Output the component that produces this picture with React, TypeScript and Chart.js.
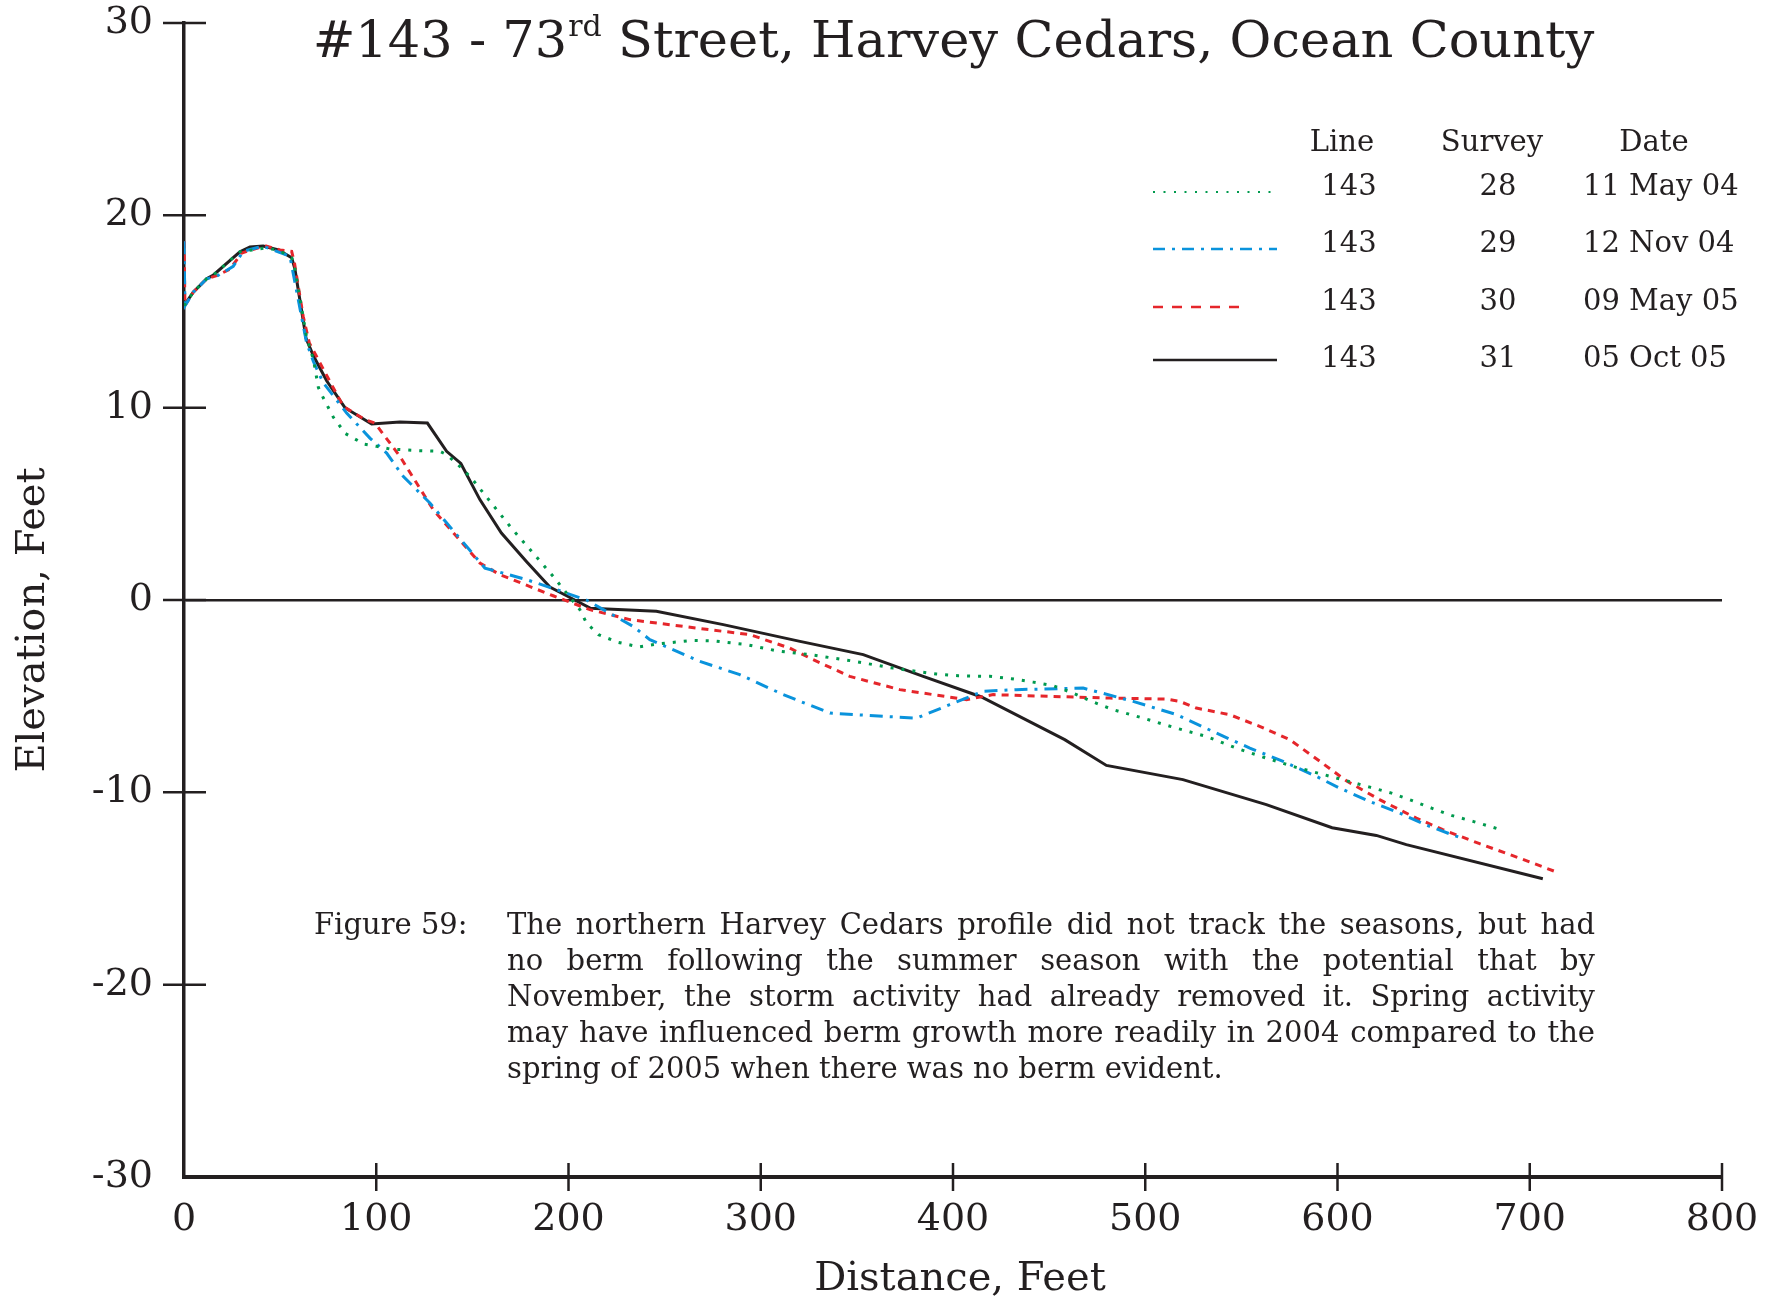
import React, { useEffect, useRef } from "react";
import { Chart, registerables } from "chart.js";

Chart.register(...registerables);

const INK = "#231f20";
const FONT = "'DejaVu Serif', serif";

// ---- data (distance in feet, elevation in feet) ----
const survey28Distance = [0, 4.8, 11.8, 15.3, 29, 42.1, 49, 56, 57.7, 63.7, 67.3, 69.9, 72.5, 77.7, 84, 93.7, 100.2, 107.1, 121, 133.1, 136.5, 141.7, 149.5, 159.9, 170.3, 181.6, 192, 199, 205.9, 209.4, 215.6, 225.8, 236.5, 247.5, 264.8, 275.2, 292.6, 308.2, 325.5, 347.1, 368.8, 391.3, 402.7, 419.1, 430.3, 441.6, 452, 462.4, 472.8, 483.2, 498.8, 516.1, 531.7, 547.3, 562.9, 578.5, 589.8, 601.1, 616.8, 628.1, 638.5, 648.9, 659.3, 670.5, 686.1];
const survey28Elevation = [15.3, 16.0, 16.7, 16.9, 18.1, 18.3, 18.2, 17.8, 17.2, 13.7, 12.5, 11.05, 10.5, 9.5, 8.65, 8.1, 7.99, 7.85, 7.77, 7.73, 7.56, 7.12, 6.34, 5.04, 3.74, 2.44, 1.23, 0.36, -0.5, -1.2, -1.8, -2.2, -2.44, -2.27, -2.1, -2.12, -2.32, -2.64, -2.84, -3.16, -3.54, -3.85, -3.94, -3.97, -4.09, -4.27, -4.45, -4.84, -5.3, -5.7, -6.14, -6.66, -7.09, -7.7, -8.22, -8.7, -9.0, -9.3, -9.73, -10.04, -10.42, -10.82, -11.2, -11.51, -11.98];

const survey29Distance = [0, 0.5, 4.8, 11.8, 17, 25.6, 30.8, 41, 55.1, 63.7, 67.3, 72.4, 84.6, 96.7, 105.4, 114, 127.9, 141.8, 156.5, 178.1, 193.7, 209.3, 233.6, 242.3, 268.3, 289.1, 311.7, 336, 363.7, 381.1, 398.3, 415.6, 433, 467.7, 493.7, 516.3, 537, 554.4, 571.7, 589, 601.1, 616.7, 632.3, 647.9, 664.4];
const survey29Elevation = [18.65, 15.3, 16.0, 16.7, 16.83, 17.35, 18.13, 18.4, 17.87, 13.4, 12.4, 11.3, 9.72, 8.42, 7.64, 6.43, 5.04, 3.4, 1.66, 1.06, 0.54, 0, -1.37, -2.06, -3.19, -3.88, -4.92, -5.88, -6.05, -6.14, -5.44, -4.75, -4.66, -4.58, -5.27, -5.96, -6.92, -7.7, -8.39, -9.17, -9.78, -10.47, -11.08, -11.77, -12.38];

const survey30Distance = [0, 0.5, 4.8, 11.8, 17, 23.9, 30, 42.1, 50, 56, 57.5, 62, 65.2, 68.9, 82.8, 94.1, 99.3, 112.3, 129.6, 141.7, 153.9, 164.3, 192, 211.1, 231.9, 266.6, 294.3, 315.1, 327.2, 346.3, 372.3, 407, 420.9, 450.3, 481.5, 511, 517.9, 526.6, 543.9, 559.5, 575.1, 587.3, 604.6, 621.9, 641, 654.8, 673.9, 694.7, 714.6];
const survey30Elevation = [18.65, 15.3, 16.0, 16.7, 16.86, 17.2, 18.04, 18.42, 18.2, 18.13, 17.5, 14.75, 13.36, 12.67, 10.07, 9.38, 9.2, 7.47, 4.7, 3.31, 1.92, 1.32, 0.22, -0.5, -1.02, -1.46, -1.8, -2.5, -3.1, -3.97, -4.66, -5.18, -4.92, -5.01, -5.1, -5.15, -5.27, -5.62, -5.96, -6.57, -7.26, -8.13, -9.4, -10.38, -11.34, -11.94, -12.67, -13.42, -14.17];

const survey31Distance = [0, 4.8, 11.8, 15.3, 29.1, 34.3, 41.2, 49.1, 56, 57.7, 63.5, 67.3, 74.2, 83.7, 97.6, 112.3, 126.6, 136.6, 144, 153.9, 165.1, 178.1, 190.3, 199, 211.5, 245.7, 280.5, 320.4, 353.3, 384.5, 414.5, 458.1, 479.8, 519.6, 563, 597.2, 620.2, 635.8, 706.8];
const survey31Elevation = [15.3, 16.0, 16.7, 16.9, 18.1, 18.35, 18.4, 18.2, 17.8, 17.2, 13.6, 12.7, 11.4, 10.0, 9.15, 9.26, 9.2, 7.73, 7.1, 5.22, 3.48, 2.0, 0.67, 0.22, -0.43, -0.58, -1.28, -2.15, -2.84, -3.97, -5.03, -7.26, -8.6, -9.34, -10.64, -11.84, -12.24, -12.72, -14.49];

const lineNumbers = ["143", "143", "143", "143"];
const surveyNumbers = ["28", "29", "30", "31"];
const surveyDates = ["11 May 04", "12 Nov 04", "09 May 05", "05 Oct 05"];
const seriesColors = ["#009a4e", "#0a93dc", "#e5262b", INK];
const seriesDashes = [[3, 8], [13, 7, 3, 7], [7, 6], []];
const legendDashes = [[2, 8.5], [12, 7, 3, 7], [10, 9], []];

const xTickValues = [0, 100, 200, 300, 400, 500, 600, 700, 800];
const yTickValues = [-30, -20, -10, 0, 10, 20, 30];
const xTickMarks = [100, 200, 300, 400, 500, 600, 700, 800];
const yTickMarks = [30, 20, 10, 0, -10, -20];

const titleMain = "#143 - 73";
const titleSup = "rd";
const titleRest = " Street, Harvey Cedars, Ocean County";
const xTitle = "Distance, Feet";
const yTitle = "Elevation, Feet";
const legendHeaders = ["Line", "Survey", "Date"];
const captionLabel = "Figure 59:";
const captionLines = [
  "The northern Harvey Cedars profile did not track the seasons, but had",
  "no berm following the summer season with the potential that by",
  "November, the storm activity had already removed it.  Spring activity",
  "may have influenced berm growth more readily in 2004 compared to the",
  "spring of 2005 when there was no berm evident.",
];

function pairs(xs: number[], ys: number[]) {
  return xs.map((x, i) => ({ x, y: ys[i] }));
}

const decorPlugin = {
  id: "decor",
  afterDraw(chart: any) {
    const { ctx, chartArea, scales } = chart;
    const xs = scales.x;
    const ys = scales.y;
    ctx.save();
    ctx.strokeStyle = INK;
    ctx.fillStyle = INK;
    ctx.lineWidth = 2.5;
    ctx.setLineDash([]);
    // y tick marks crossing the axis
    yTickMarks.forEach((v) => {
      const py = ys.getPixelForValue(v);
      ctx.beginPath();
      ctx.moveTo(chartArea.left - 21, py);
      ctx.lineTo(chartArea.left + 22, py);
      ctx.stroke();
    });
    // x tick marks crossing the axis
    xTickMarks.forEach((v) => {
      const px = xs.getPixelForValue(v);
      ctx.beginPath();
      ctx.moveTo(px, chartArea.bottom - 14);
      ctx.lineTo(px, chartArea.bottom + 14);
      ctx.stroke();
    });

    // title with superscript
    const cx = (chartArea.left + chartArea.right) / 2;
    const big = `51px ${FONT}`;
    const small = `30px ${FONT}`;
    ctx.textBaseline = "alphabetic";
    ctx.font = big;
    const w1 = ctx.measureText(titleMain).width;
    const w3 = ctx.measureText(titleRest).width;
    ctx.font = small;
    const w2 = ctx.measureText(titleSup).width;
    let tx = cx - (w1 + w2 + w3) / 2;
    const tBase = 57;
    ctx.textAlign = "left";
    ctx.font = big;
    ctx.fillText(titleMain, tx, tBase);
    tx += w1 + 1;
    ctx.font = small;
    ctx.fillText(titleSup, tx, tBase - 21);
    tx += w2;
    ctx.font = big;
    ctx.fillText(titleRest, tx, tBase);

    // axis titles
    ctx.font = `40px ${FONT}`;
    ctx.textAlign = "center";
    ctx.textBaseline = "middle";
    ctx.fillText(xTitle, 960, 1280);
    ctx.save();
    ctx.translate(34, 620);
    ctx.rotate(-Math.PI / 2);
    ctx.fillText(yTitle, 0, 0);
    ctx.restore();

    // legend table
    ctx.font = `29px ${FONT}`;
    ctx.textBaseline = "middle";
    ctx.textAlign = "center";
    ctx.fillText(legendHeaders[0], 1342, 143);
    ctx.fillText(legendHeaders[1], 1492, 143);
    ctx.fillText(legendHeaders[2], 1654, 143);
    const rowY = [187, 244, 302, 359];
    surveyNumbers.forEach((s, i) => {
      ctx.textAlign = "center";
      ctx.fillStyle = INK;
      ctx.fillText(lineNumbers[i], 1349, rowY[i]);
      ctx.fillText(s, 1498, rowY[i]);
      ctx.textAlign = "left";
      ctx.fillText(surveyDates[i], 1583, rowY[i]);
      ctx.strokeStyle = seriesColors[i];
      ctx.lineWidth = i === 0 ? 2 : 2.5;
      ctx.setLineDash(legendDashes[i]);
      ctx.beginPath();
      const ly = rowY[i] + (i === 3 ? 1 : 5);
      ctx.moveTo(1153, ly);
      ctx.lineTo(i === 2 ? 1240 : 1277, ly);
      ctx.stroke();
    });
    ctx.setLineDash([]);

    // caption
    ctx.fillStyle = INK;
    ctx.font = `29px ${FONT}`;
    ctx.textAlign = "left";
    ctx.textBaseline = "middle";
    ctx.fillText(captionLabel, 314, 926);
    const left = 507;
    const width = 1088;
    captionLines.forEach((line, i) => {
      const ly = 926 + i * 36;
      if (i === captionLines.length - 1) {
        ctx.fillText(line, left, ly);
        return;
      }
      const words = line.split(/\s+/);
      const total = words.reduce((a, w) => a + ctx.measureText(w).width, 0);
      const gap = (width - total) / (words.length - 1);
      let x = left;
      words.forEach((w) => {
        ctx.fillText(w, x, ly);
        x += ctx.measureText(w).width + gap;
      });
    });
    ctx.restore();
  },
};

export default function App() {
  const ref = useRef<HTMLCanvasElement | null>(null);
  useEffect(() => {
    if (!ref.current) return;
    const series = [
      pairs(survey28Distance, survey28Elevation),
      pairs(survey29Distance, survey29Elevation),
      pairs(survey30Distance, survey30Elevation),
      pairs(survey31Distance, survey31Elevation),
    ];
    const chart = new Chart(ref.current, {
      type: "line",
      data: {
        datasets: series.map((d, i) => ({
          label: surveyNumbers[i],
          data: d,
          borderColor: seriesColors[i],
          borderWidth: 3,
          borderDash: seriesDashes[i],
          borderCapStyle: "butt",
          pointRadius: 0,
          tension: 0,
          fill: false,
        })),
      },
      options: {
        animation: false,
        responsive: false,
        parsing: true,
        layout: { autoPadding: false, padding: { top: 23, right: 57, left: 0, bottom: 0 } },
        plugins: { legend: { display: false }, tooltip: { enabled: false }, title: { display: false } },
        scales: {
          x: {
            type: "linear",
            min: 0,
            max: 800,
            afterFit: (s: any) => {
              s.height = 124;
              s.paddingLeft = 0;
              s.paddingRight = 0;
            },
            afterBuildTicks: (s: any) => {
              s.ticks = xTickValues.map((v) => ({ value: v }));
            },
            grid: { display: false, drawTicks: false },
            border: { display: true, color: INK, width: 4 },
            ticks: {
              padding: 20,
              color: INK,
              font: { family: FONT, size: 38 },
              maxRotation: 0,
              autoSkip: false,
            },
          },
          y: {
            type: "linear",
            min: -30,
            max: 30,
            afterFit: (s: any) => {
              s.width = 184;
              s.paddingTop = 0;
              s.paddingBottom = 0;
            },
            afterBuildTicks: (s: any) => {
              s.ticks = yTickValues.map((v) => ({ value: v }));
            },
            grid: {
              drawTicks: false,
              color: (c: any) => (c.tick && c.tick.value === 0 ? INK : "rgba(0,0,0,0)"),
              lineWidth: 2.5,
            },
            border: { display: true, color: INK, width: 3.5 },
            ticks: {
              padding: 31,
              color: INK,
              font: { family: FONT, size: 38 },
              autoSkip: false,
            },
          },
        },
      },
      plugins: [decorPlugin],
    });
    return () => chart.destroy();
  }, []);
  return (
    <div style={{ position: "fixed", left: 0, top: 0, width: 1779, height: 1301, background: "#fff" }}>
      <canvas ref={ref} width={1779} height={1301} style={{ display: "block" }} />
    </div>
  );
}
